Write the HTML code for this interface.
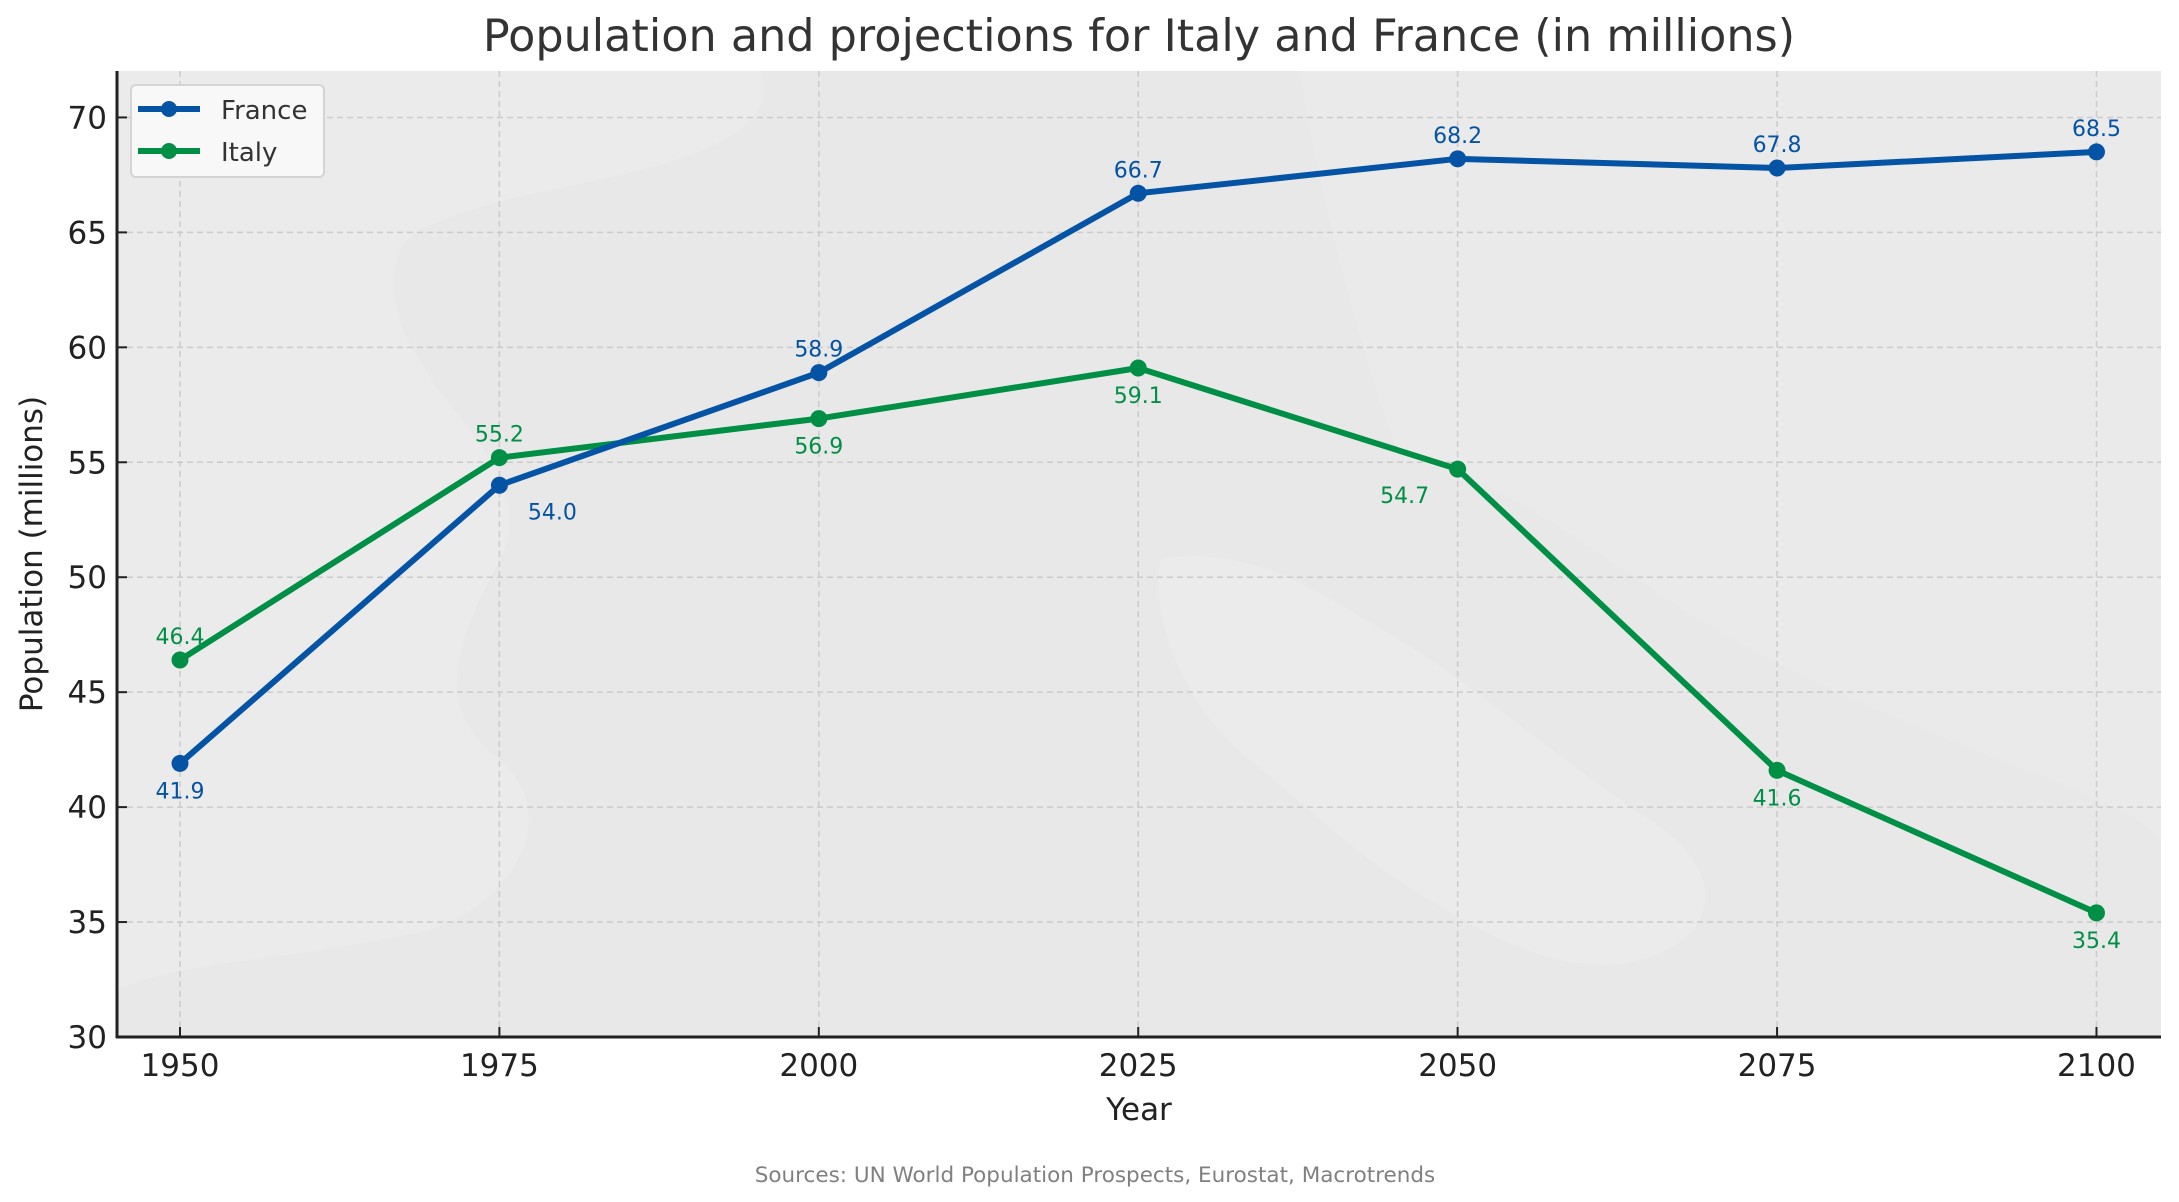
<!DOCTYPE html>
<html><head><meta charset="utf-8"><style>
html,body{margin:0;padding:0;background:#fff;}
svg{display:block;font-family:"DejaVu Sans","Liberation Sans",sans-serif;}
</style></head><body>
<svg id="chart" width="2179" height="1202" viewBox="0 0 2179 1202" xmlns="http://www.w3.org/2000/svg">
<rect x="0" y="0" width="2179" height="1202" fill="#fff"/>
<text x="1139" y="51" font-size="44.5" fill="#333" text-anchor="middle">Population and projections for Italy and France (in millions)</text>
<g id="plot">
<rect x="117" y="71" width="2044" height="966" fill="#e8e8e8"/>
<path d="M117,71 L760,71 C780,120 720,150 640,170 C560,190 480,200 420,230 C380,250 390,320 420,360 C450,420 540,480 500,560 C470,620 420,700 500,760 C560,810 520,900 430,930 C300,960 180,960 117,990 Z" fill="#ebebeb"/>
<path d="M1160,560 C1250,540 1330,600 1400,640 C1480,690 1560,760 1650,820 C1730,870 1720,940 1640,960 C1560,980 1480,930 1430,900 C1360,860 1300,800 1250,760 C1200,720 1150,640 1160,560 Z" fill="#ebebeb"/>
<path d="M1400,460 C1500,470 1600,560 1700,620 C1800,680 1900,720 2000,760 C2080,790 2150,820 2161,840 L2161,71 L1300,71 C1320,200 1360,350 1400,460 Z" fill="#eaeaea"/>
<g id="grid"></g>
<g id="series"></g>
<g id="labels"></g>
</g>
<line x1="117" y1="71" x2="117" y2="1038" stroke="#222" stroke-width="3"/>
<line x1="116" y1="1037" x2="2161" y2="1037" stroke="#222" stroke-width="3"/>
<g id="ticks"></g>
<text x="1139" y="1120" font-size="31" fill="#222" text-anchor="middle">Year</text>
<text transform="translate(42,554) rotate(-90)" font-size="31" fill="#222" text-anchor="middle">Population (millions)</text>
<text x="1095" y="1182" font-size="21.5" fill="#808080" text-anchor="middle">Sources: UN World Population Prospects, Eurostat, Macrotrends</text>
<g>
<rect x="131" y="85" width="193" height="92" rx="5" fill="#f8f8f8" stroke="#d4d4d4" stroke-width="2"/>
<line x1="138" y1="109" x2="200" y2="109" stroke="#0453a4" stroke-width="6"/>
<circle cx="169" cy="109" r="8" fill="#0453a4"/>
<text x="221" y="119" font-size="26" fill="#333">France</text>
<line x1="138" y1="151" x2="200" y2="151" stroke="#008f45" stroke-width="6"/>
<circle cx="169" cy="151" r="8" fill="#008f45"/>
<text x="221" y="161" font-size="26" fill="#333">Italy</text>
</g>
</svg>
<script>
const years = [1950, 1975, 2000, 2025, 2050, 2075, 2100];
const franceValues = [41.9, 54.0, 58.9, 66.7, 68.2, 67.8, 68.5];
const italyValues = [46.4, 55.2, 56.9, 59.1, 54.7, 41.6, 35.4];
const yTicks = [30, 35, 40, 45, 50, 55, 60, 65, 70];
const xTicks = [1950, 1975, 2000, 2025, 2050, 2075, 2100];
// label placement: 'a' above, 'b' below, 'br' below-right, 'bl' below-left
const franceLabelPos = ['b', 'br', 'a', 'a', 'a', 'a', 'a'];
const italyLabelPos = ['a', 'a', 'b', 'b', 'bl', 'b', 'b'];

const NS = 'http://www.w3.org/2000/svg';
const X0 = 117, X1 = 2161, Y0 = 71, Y1 = 1037;
const xMin = 1945.07, xMax = 2105.05, yMin = 30, yMax = 72.02;
function xs(v){ return X0 + (v - xMin) / (xMax - xMin) * (X1 - X0); }
function ys(v){ return Y1 - (v - yMin) / (yMax - yMin) * (Y1 - Y0); }
function mk(tag, attrs, parent){
  const e = document.createElementNS(NS, tag);
  for (const k in attrs) e.setAttribute(k, attrs[k]);
  parent.appendChild(e);
  return e;
}
const grid = document.getElementById('grid');
const ticks = document.getElementById('ticks');
yTicks.forEach(t => {
  const y = ys(t);
  const g = mk('line', {x1: X0, x2: X1, y1: y, y2: y, stroke: '#cbcbcb', 'stroke-width': 1.5, 'stroke-dasharray': '6,4'}, grid);
  
  
  const tk = mk('line', {x1: X0, x2: X0 + 10, y1: y, y2: y, stroke: '#222', 'stroke-width': 2}, ticks);
  
  
  const tl = mk('text', {x: X0 - 10, y: y + 11, 'font-size': 31, fill: '#222', 'text-anchor': 'end'}, ticks);
  tl.textContent = t;
  
  
});
xTicks.forEach(t => {
  const x = xs(t);
  const g = mk('line', {x1: x, x2: x, y1: Y0, y2: Y1, stroke: '#cbcbcb', 'stroke-width': 1.5, 'stroke-dasharray': '6,4'}, grid);
  
  
  const tk = mk('line', {x1: x, x2: x, y1: Y1, y2: Y1 - 10, stroke: '#222', 'stroke-width': 2}, ticks);
  
  
  const tl = mk('text', {x: x, y: Y1 + 39, 'font-size': 31, fill: '#222', 'text-anchor': 'middle'}, ticks);
  tl.textContent = t;
  
  
});
const series = document.getElementById('series');
const labels = document.getElementById('labels');
function drawSeries(vals, color, name, pos){
  const pts = vals.map((v, i) => xs(years[i]) + ',' + ys(v)).join(' ');
  const pl = mk('polyline', {points: pts, fill: 'none', stroke: color, 'stroke-width': 6, 'stroke-linejoin': 'round'}, series);
  
  
  vals.forEach((v, i) => {
    const cx = xs(years[i]), cy = ys(v);
    const c = mk('circle', {cx: cx, cy: cy, r: 8.5, fill: color}, series);
    
    
    let lx = cx, ly = cy - 16;
    const p = pos[i];
    if (p === 'b') ly = cy + 35;
    if (p === 'br') { lx = cx + 53; ly = cy + 34; }
    if (p === 'bl') { lx = cx - 53; ly = cy + 34; }
    const t = mk('text', {x: lx, y: ly, 'font-size': 22, fill: color, 'text-anchor': 'middle'}, labels);
    t.textContent = v.toFixed(1);
    
    
  });
}
drawSeries(italyValues, '#008f45', 'italy', italyLabelPos);
drawSeries(franceValues, '#0453a4', 'france', franceLabelPos);
</script>
</body></html>
